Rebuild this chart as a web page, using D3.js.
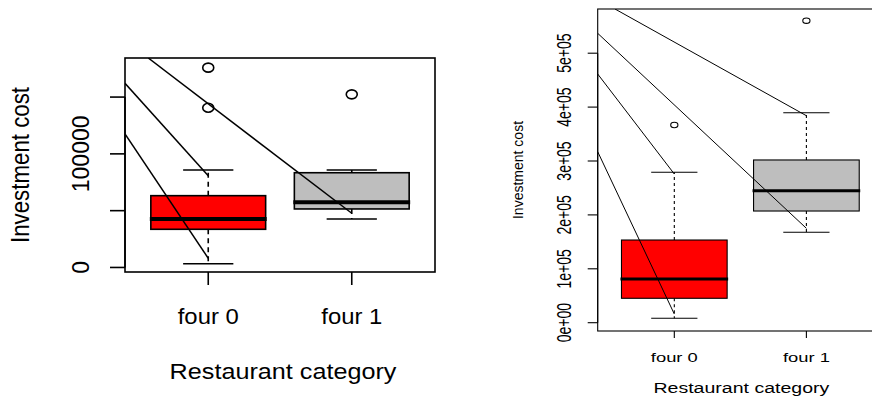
<!DOCTYPE html>
<html>
<head>
<meta charset="utf-8">
<script src="https://cdn.jsdelivr.net/npm/d3@7/dist/d3.min.js"></script>
<style>
  html, body { margin: 0; padding: 0; background: #fff; }
  svg { display: block; }
  text { font-family: "Liberation Sans", Arial, sans-serif; fill: #000; }
</style>
</head>
<body>
<svg id="chart" width="872" height="398"></svg>
<script>
// ---------------- DATA ----------------
const categories = ["four 0", "four 1"];
const boxColors = ["#ff0000", "#bebebe"];

// Left panel: [lowerWhisker, Q1, median, Q3, upperWhisker]
const leftStats = [
  [3300, 33600, 42700, 63200, 85800],
  [42700, 51500, 57400, 83400, 85800]
];
const leftOutliers = [[175900, 140600], [152400]];
const leftTicks = [0, 50000, 100000, 150000];
const leftTickLabels = ["0", "", "100000", ""];
// diagonal segments: [x0, y0, x1, y1] in data units
const leftSegments = [
  [0.42, 117500, 1, 8100],
  [0.42, 162100, 1, 80800],
  [0.582, 184400, 2, 47700]
];

// Right panel
const rightStats = [
  [8200, 45300, 81100, 153400, 279000],
  [167700, 207200, 244900, 301900, 389600]
];
const rightOutliers = [[366800], [560300]];
const rightTicks = [0, 100000, 200000, 300000, 400000, 500000];
const rightTickLabels = ["0e+00", "1e+05", "2e+05", "3e+05", "4e+05", "5e+05"];
const rightSegments = [
  [0.42, 317300, 1, 16100],
  [0.42, 461400, 1, 275900],
  [0.42, 536900, 2, 175100],
  [0.551, 582000, 2, 384000]
];

const yLabel = "Investment cost";
const xLabel = "Restaurant category";

// ---------------- DRAW ----------------
const svg = d3.select("#chart");

function panel(cfg) {
  const g = svg.append("g");
  const x = d3.scaleLinear().domain([0.42, 2.58]).range(cfg.xRange);
  const y = d3.scaleLinear().domain(cfg.yDomain).range(cfg.yRange);
  const [px0, px1] = x.range();
  const [py1, py0] = y.range();

  const clipId = "clip" + cfg.id;
  svg.append("clipPath").attr("id", clipId)
    .append("rect").attr("x", px0).attr("y", py0).attr("width", px1 - px0).attr("height", py1 - py0);

  const boxW = 0.4, capW = 0.175;
  categories.forEach((c, i) => {
    const s = cfg.stats[i];
    const cx = x(i + 1);
    // whiskers (dashed)
    g.append("line").attr("x1", cx).attr("x2", cx).attr("y1", y(s[3])).attr("y2", y(s[4]))
      .attr("stroke", "#000").attr("stroke-width", cfg.lw).attr("stroke-dasharray", cfg.dash);
    g.append("line").attr("x1", cx).attr("x2", cx).attr("y1", y(s[1])).attr("y2", y(s[0]))
      .attr("stroke", "#000").attr("stroke-width", cfg.lw).attr("stroke-dasharray", cfg.dash);
    // caps
    [s[0], s[4]].forEach(v => {
      g.append("line").attr("x1", x(i + 1 - capW)).attr("x2", x(i + 1 + capW))
        .attr("y1", y(v)).attr("y2", y(v)).attr("stroke", "#000").attr("stroke-width", cfg.lw);
    });
    // box
    g.append("rect").attr("x", x(i + 1 - boxW)).attr("width", x(i + 1 + boxW) - x(i + 1 - boxW))
      .attr("y", y(s[3])).attr("height", y(s[1]) - y(s[3]))
      .attr("fill", boxColors[i]).attr("stroke", "#000").attr("stroke-width", cfg.lw);
    // median
    g.append("line").attr("x1", x(i + 1 - boxW) - 1).attr("x2", x(i + 1 + boxW) + 1)
      .attr("y1", y(s[2])).attr("y2", y(s[2])).attr("stroke", "#000").attr("stroke-width", cfg.medW);
    // outliers
    cfg.outliers[i].forEach(v => {
      g.append("ellipse").attr("cx", cx).attr("cy", y(v)).attr("rx", cfg.orx).attr("ry", cfg.ory)
        .attr("fill", "none").attr("stroke", "#000").attr("stroke-width", cfg.lw);
    });
  });

  // diagonal segments
  g.append("g").attr("clip-path", `url(#${clipId})`)
    .selectAll("line").data(cfg.segments).join("line")
    .attr("x1", d => x(d[0])).attr("y1", d => y(d[1]))
    .attr("x2", d => x(d[2])).attr("y2", d => y(d[3]))
    .attr("stroke", "#000").attr("stroke-width", cfg.segW);

  // plot frame
  g.append("rect").attr("x", px0).attr("y", py0).attr("width", px1 - px0).attr("height", py1 - py0)
    .attr("fill", "none").attr("stroke", "#000").attr("stroke-width", cfg.lw);

  // y axis ticks
  cfg.ticks.forEach((t, k) => {
    g.append("line").attr("x1", px0 - cfg.yTickLen).attr("x2", px0).attr("y1", y(t)).attr("y2", y(t))
      .attr("stroke", "#000").attr("stroke-width", cfg.lw);
    if (cfg.tickLabels[k]) {
      g.append("text")
        .attr("transform", `translate(${cfg.yTickBase},${y(t)}) scale(${cfg.yTickSx},1) rotate(-90)`)
        .attr("text-anchor", "middle").attr("font-size", cfg.yTickFont)
        .text(cfg.tickLabels[k]);
    }
  });
  g.append("line").attr("x1", px0).attr("x2", px0)
    .attr("y1", y(cfg.ticks[0])).attr("y2", y(cfg.ticks[cfg.ticks.length - 1]))
    .attr("stroke", "#000").attr("stroke-width", cfg.lw);

  // x axis ticks + labels
  categories.forEach((c, i) => {
    const cx = x(i + 1);
    g.append("line").attr("x1", cx).attr("x2", cx).attr("y1", py1).attr("y2", py1 + cfg.xTickLen)
      .attr("stroke", "#000").attr("stroke-width", cfg.lw);
    g.append("text")
      .attr("transform", `translate(${cx},${cfg.xTickBase}) scale(${cfg.xTickSx},1)`)
      .attr("text-anchor", "middle").attr("font-size", cfg.xTickFont).text(c);
  });

  // axis titles
  g.append("text")
    .attr("transform", `translate(${(px0 + px1) / 2 + cfg.xLabDx},${cfg.xLabBase}) scale(${cfg.xLabSx},1)`)
    .attr("text-anchor", "middle").attr("font-size", cfg.xLabFont).text(xLabel);
  g.append("text")
    .attr("transform", `translate(${cfg.yLabBase},${(py0 + py1) / 2}) scale(${cfg.yLabSx},1) rotate(-90)`)
    .attr("text-anchor", "middle").attr("font-size", cfg.yLabFont).text(yLabel);
}

panel({
  id: "L", xRange: [125, 435], yDomain: [-4000, 184400], yRange: [272, 58],
  stats: leftStats, outliers: leftOutliers, segments: leftSegments,
  ticks: leftTicks, tickLabels: leftTickLabels,
  lw: 1.6, medW: 4, segW: 1.5, dash: "5,4", orx: 5.5, ory: 4.5,
  yTickLen: 15, yTickBase: 88.5, yTickFont: 23, yTickSx: 1.02,
  xTickLen: 13, xTickBase: 323.5, xTickFont: 21.5, xTickSx: 1.11,
  xLabBase: 378.5, xLabFont: 22.5, xLabSx: 1.12, xLabDx: 3,
  yLabBase: 29, yLabFont: 22.3, yLabSx: 1.12
});

panel({
  id: "R", xRange: [597.7, 883], yDomain: [-15400, 582000], yRange: [331, 9],
  stats: rightStats, outliers: rightOutliers, segments: rightSegments,
  ticks: rightTicks, tickLabels: rightTickLabels,
  lw: 1.1, medW: 3, segW: 1, dash: "3,3", orx: 3.6, ory: 2.7,
  yTickLen: 10, yTickBase: 571, yTickFont: 14, yTickSx: 1.45,
  xTickLen: 7, xTickBase: 361.5, xTickFont: 13.3, xTickSx: 1.38,
  xLabBase: 392.5, xLabFont: 14.8, xLabSx: 1.32, xLabDx: 1,
  yLabBase: 523, yLabFont: 14, yLabSx: 1.0
});
</script>
</body>
</html>
